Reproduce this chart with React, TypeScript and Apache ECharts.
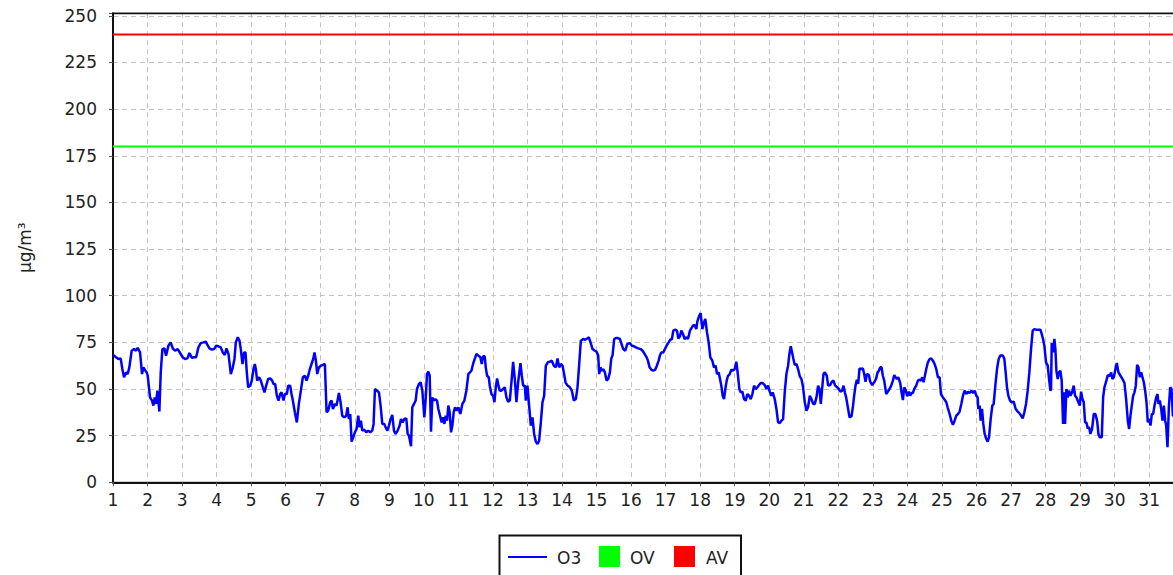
import { useEffect, useRef } from "react";
import * as echarts from "echarts";

const seriesNames = ["O3", "OV", "AV"];
const seriesColors = ["#0000ff", "#00ff00", "#ff0000"];
const yAxisName = "µg/m³";
const ovLimit = 180;
const avLimit = 240;
const xMin = 1;
const xMax = 32;
const yMin = 0;
const yMax = 251.4;

const o3Days1to6: [number, number][] = [
  [1.0, 68.0], [1.029, 67.9], [1.087, 67.0], [1.155, 66.1], [1.222, 66.4], [1.271, 60.7], [1.319, 56.3], [1.377, 58.9], [1.425, 58.0], [1.473, 61.6], [1.541, 70.5], [1.609, 71.4], [1.667, 70.5], [1.715, 72.1], [1.783, 69.6], [1.841, 58.0], [1.879, 61.6], [1.937, 59.8], [1.976, 58.9], [2.005, 57.1], [2.072, 45.5], [2.13, 43.8], [2.169, 41.1], [2.208, 45.5], [2.246, 42.0], [2.285, 49.1], [2.343, 37.9], [2.382, 58.9], [2.43, 71.4], [2.488, 71.8], [2.536, 67.9], [2.604, 73.2], [2.671, 75.0], [2.729, 71.8], [2.797, 70.5], [2.874, 71.4], [2.942, 69.3], [3.019, 67.0], [3.087, 66.1], [3.155, 66.4], [3.213, 69.3], [3.28, 66.8], [3.348, 67.0], [3.406, 67.0], [3.473, 72.3], [3.541, 74.6], [3.618, 75.0], [3.686, 75.4], [3.734, 73.6], [3.792, 71.8], [3.86, 71.1], [3.928, 71.4], [3.986, 73.2], [4.053, 72.9], [4.121, 72.3], [4.179, 69.6], [4.237, 68.2], [4.285, 71.8], [4.343, 68.8], [4.411, 58.0], [4.469, 61.6], [4.517, 66.1], [4.556, 75.0], [4.614, 77.7], [4.662, 75.9], [4.7, 71.4], [4.749, 63.4], [4.797, 69.6], [4.836, 69.6], [4.874, 58.9], [4.913, 50.9], [4.971, 51.8], [5.019, 54.5], [5.068, 60.7], [5.106, 63.4], [5.135, 60.7], [5.174, 54.5], [5.232, 56.3], [5.28, 54.5], [5.338, 50.9], [5.386, 48.2], [5.435, 51.8], [5.493, 55.4], [5.551, 55.7], [5.609, 54.5], [5.647, 52.7], [5.696, 52.7], [5.744, 46.4], [5.792, 43.8], [5.841, 47.3], [5.879, 48.2], [5.937, 43.8], [5.976, 47.3], [6.034, 47.3], [6.072, 51.8], [6.13, 51.8],
];

const o3Days6to11: [number, number][] = [
  [6.169, 47.3], [6.207, 43.8], [6.265, 37.5], [6.323, 32.1], [6.381, 42.0], [6.439, 49.1], [6.497, 56.3], [6.555, 57.1], [6.603, 54.5], [6.652, 57.1], [6.7, 60.7], [6.748, 63.4], [6.797, 66.1], [6.835, 69.6], [6.874, 65.2], [6.913, 58.0], [6.961, 61.6], [7.019, 62.5], [7.087, 63.0], [7.135, 63.4], [7.183, 37.5], [7.231, 38.4], [7.289, 42.9], [7.328, 43.8], [7.367, 39.3], [7.425, 42.0], [7.473, 41.1], [7.541, 47.9], [7.589, 42.9], [7.637, 35.7], [7.695, 34.8], [7.753, 35.7], [7.792, 40.2], [7.83, 33.9], [7.869, 36.6], [7.908, 21.8], [7.956, 24.1], [8.004, 26.8], [8.053, 28.6], [8.101, 35.7], [8.14, 29.5], [8.178, 33.0], [8.217, 27.7], [8.275, 28.2], [8.333, 26.8], [8.391, 27.7], [8.449, 26.8], [8.507, 27.7], [8.545, 31.3], [8.584, 50.0], [8.642, 49.1], [8.7, 48.2], [8.748, 41.1], [8.797, 31.3], [8.855, 31.3], [8.893, 29.5], [8.942, 27.7], [8.99, 30.4], [9.038, 33.9], [9.086, 36.1], [9.135, 27.7], [9.183, 25.9], [9.241, 27.7], [9.299, 30.4], [9.338, 33.9], [9.386, 32.1], [9.434, 33.9], [9.492, 34.3], [9.531, 25.9], [9.57, 25.0], [9.628, 19.3], [9.666, 40.2], [9.715, 42.0], [9.763, 43.8], [9.801, 50.0], [9.859, 52.7], [9.908, 53.6], [9.956, 49.1], [10.014, 34.8], [10.053, 44.6], [10.091, 58.0], [10.13, 59.3], [10.169, 57.1], [10.207, 27.1], [10.246, 45.5], [10.285, 43.8], [10.333, 44.6], [10.381, 43.8], [10.42, 39.3], [10.468, 35.7], [10.516, 32.1], [10.555, 34.8], [10.594, 31.3], [10.632, 35.7], [10.671, 33.0], [10.71, 41.1], [10.748, 37.5], [10.787, 26.8], [10.826, 30.4], [10.864, 37.5], [10.903, 40.2], [10.951, 38.4], [10.999, 40.2], [11.057, 36.6], [11.115, 42.0], [11.173, 43.8], [11.231, 49.1], [11.289, 58.0],
];

const o3Days11to16: [number, number][] = [
  [11.377, 59.8], [11.425, 63.4], [11.474, 66.1], [11.522, 68.8], [11.58, 67.9], [11.638, 67.0], [11.676, 63.4], [11.715, 67.5], [11.763, 67.5], [11.792, 61.6], [11.831, 57.1], [11.879, 56.3], [11.908, 51.8], [11.957, 47.3], [12.005, 46.4], [12.044, 42.9], [12.082, 50.9], [12.121, 55.7], [12.16, 51.8], [12.198, 49.1], [12.246, 49.1], [12.295, 50.0], [12.343, 50.9], [12.391, 45.5], [12.44, 43.2], [12.488, 43.8], [12.536, 53.6], [12.585, 64.6], [12.633, 55.4], [12.681, 42.9], [12.73, 53.6], [12.797, 63.9], [12.836, 57.1], [12.875, 51.8], [12.923, 51.8], [12.952, 43.8], [13.0, 51.8], [13.048, 41.1], [13.097, 30.4], [13.145, 34.8], [13.193, 25.9], [13.242, 21.8], [13.29, 20.5], [13.338, 22.3], [13.387, 32.1], [13.435, 42.9], [13.483, 46.4], [13.532, 62.5], [13.59, 64.3], [13.647, 64.6], [13.705, 65.2], [13.763, 62.5], [13.821, 61.6], [13.87, 66.4], [13.918, 61.6], [13.966, 63.4], [14.015, 62.5], [14.053, 58.9], [14.102, 53.6], [14.15, 52.1], [14.227, 50.9], [14.285, 49.1], [14.343, 43.8], [14.401, 44.6], [14.449, 50.9], [14.498, 63.4], [14.546, 75.9], [14.614, 76.8], [14.672, 76.4], [14.73, 77.1], [14.778, 77.7], [14.826, 75.0], [14.884, 71.4], [14.952, 70.5], [15.0, 70.0], [15.048, 67.9], [15.077, 58.0], [15.116, 61.6], [15.155, 59.8], [15.193, 60.7], [15.242, 58.9], [15.29, 54.5], [15.338, 55.4], [15.387, 58.9], [15.425, 66.1], [15.464, 68.2], [15.512, 76.8], [15.56, 77.3], [15.618, 77.3], [15.676, 76.8], [15.725, 74.1], [15.773, 71.4], [15.831, 70.5], [15.889, 74.1], [15.966, 74.6], [16.024, 73.2], [16.082, 72.9], [16.14, 72.3], [16.208, 71.8], [16.276, 71.4], [16.333, 70.5], [16.391, 68.8], [16.449, 67.0],
];

const o3Days16to21: [number, number][] = [
  [16.488, 65.2], [16.536, 61.6], [16.584, 60.4], [16.642, 59.8], [16.7, 60.4], [16.748, 62.5], [16.797, 65.2], [16.835, 67.9], [16.874, 69.6], [16.932, 69.6], [16.99, 71.8], [17.038, 73.6], [17.087, 75.0], [17.135, 76.4], [17.183, 76.8], [17.222, 81.3], [17.28, 81.8], [17.328, 81.3], [17.367, 77.1], [17.415, 78.2], [17.454, 81.3], [17.502, 79.5], [17.55, 76.8], [17.608, 77.7], [17.647, 76.8], [17.705, 81.3], [17.744, 82.5], [17.792, 83.9], [17.84, 84.3], [17.889, 82.1], [17.918, 86.1], [17.966, 88.9], [18.014, 90.7], [18.063, 82.1], [18.111, 85.7], [18.149, 87.5], [18.198, 80.4], [18.246, 75.0], [18.294, 67.0], [18.352, 65.2], [18.401, 61.6], [18.449, 62.5], [18.488, 58.0], [18.536, 58.9], [18.575, 55.4], [18.613, 51.8], [18.652, 46.4], [18.691, 44.6], [18.729, 50.0], [18.768, 54.5], [18.807, 57.1], [18.855, 58.0], [18.903, 60.4], [18.951, 59.8], [19.0, 60.7], [19.048, 64.6], [19.096, 57.1], [19.135, 50.0], [19.174, 48.2], [19.222, 48.6], [19.27, 44.6], [19.319, 43.8], [19.367, 47.3], [19.415, 46.4], [19.464, 44.6], [19.512, 47.3], [19.56, 51.8], [19.608, 50.0], [19.657, 50.9], [19.705, 52.1], [19.753, 53.2], [19.811, 53.2], [19.869, 52.1], [19.918, 50.0], [19.966, 51.8], [20.014, 48.6], [20.063, 46.4], [20.101, 48.2], [20.159, 44.6], [20.208, 39.3], [20.256, 32.1], [20.304, 31.8], [20.353, 33.0], [20.401, 33.9], [20.449, 48.2], [20.497, 58.0], [20.546, 62.5], [20.584, 68.8], [20.623, 72.9], [20.662, 69.6], [20.7, 66.1], [20.739, 62.9], [20.787, 63.4], [20.835, 60.7], [20.884, 56.8], [20.932, 55.4], [20.98, 50.9], [21.029, 42.9], [21.077, 38.4], [21.125, 40.2], [21.174, 46.4], [21.222, 44.6], [21.27, 42.0], [21.319, 42.0], [21.367, 45.5], [21.415, 51.8], [21.454, 50.0], [21.493, 42.0], [21.531, 50.0], [21.57, 58.0], [21.609, 58.9],
];

const o3Days21to26: [number, number][] = [
  [21.667, 57.1], [21.706, 51.8], [21.764, 52.1], [21.812, 53.9], [21.86, 54.5], [21.909, 51.8], [21.967, 50.9], [22.015, 50.0], [22.063, 48.6], [22.111, 49.1], [22.15, 51.8], [22.189, 48.2], [22.227, 45.5], [22.276, 40.2], [22.324, 34.8], [22.382, 35.4], [22.421, 40.2], [22.459, 46.4], [22.498, 51.8], [22.537, 55.0], [22.575, 52.7], [22.614, 61.1], [22.662, 60.7], [22.71, 61.1], [22.749, 58.0], [22.788, 53.9], [22.826, 58.0], [22.884, 57.5], [22.923, 53.9], [22.981, 52.1], [23.049, 53.9], [23.097, 55.7], [23.136, 58.9], [23.174, 59.8], [23.213, 61.6], [23.252, 61.6], [23.29, 57.1], [23.329, 54.5], [23.387, 47.3], [23.435, 48.6], [23.483, 50.0], [23.532, 51.8], [23.58, 54.5], [23.619, 57.5], [23.657, 56.3], [23.696, 55.4], [23.735, 56.3], [23.793, 53.2], [23.831, 48.2], [23.87, 44.1], [23.909, 50.9], [23.947, 49.6], [23.995, 46.1], [24.044, 48.6], [24.082, 46.4], [24.121, 47.9], [24.16, 47.9], [24.198, 50.0], [24.256, 51.8], [24.305, 54.5], [24.353, 55.0], [24.392, 54.5], [24.43, 56.3], [24.469, 53.6], [24.507, 57.1], [24.546, 60.7], [24.594, 64.3], [24.643, 66.1], [24.691, 66.4], [24.739, 65.2], [24.788, 63.4], [24.836, 60.7], [24.884, 56.3], [24.933, 56.3], [24.971, 47.3], [25.029, 45.5], [25.078, 44.3], [25.126, 42.9], [25.165, 40.2], [25.223, 36.6], [25.271, 33.0], [25.319, 30.9], [25.367, 33.0], [25.416, 35.7], [25.464, 36.6], [25.512, 37.9], [25.561, 42.0], [25.609, 46.4], [25.657, 49.1], [25.706, 47.3], [25.754, 48.6], [25.802, 47.9], [25.851, 49.1], [25.899, 47.9], [25.947, 49.1], [25.995, 46.4], [26.034, 45.5], [26.053, 39.3], [26.092, 41.1], [26.121, 33.0], [26.16, 39.3], [26.198, 31.3], [26.237, 25.9], [26.285, 23.2], [26.324, 21.8], [26.363, 24.1], [26.411, 33.9], [26.459, 41.1], [26.498, 42.0], [26.546, 51.8], [26.595, 60.7], [26.643, 66.1], [26.691, 67.9],
];

const o3Days26to31: [number, number][] = [
  [26.768, 67.9], [26.807, 66.1], [26.845, 58.9], [26.884, 50.9], [26.923, 46.4], [26.971, 43.8], [27.019, 42.9], [27.077, 43.2], [27.135, 39.3], [27.193, 37.9], [27.241, 37.1], [27.29, 35.7], [27.338, 34.3], [27.386, 37.5], [27.435, 42.0], [27.483, 49.1], [27.531, 58.9], [27.58, 71.4], [27.628, 81.3], [27.676, 82.1], [27.734, 81.8], [27.792, 81.8], [27.85, 81.8], [27.889, 79.5], [27.927, 76.8], [27.966, 73.2], [28.014, 64.3], [28.063, 62.5], [28.101, 55.4], [28.14, 49.1], [28.159, 50.0], [28.179, 74.6], [28.217, 69.6], [28.256, 76.8], [28.285, 71.4], [28.314, 59.8], [28.353, 55.4], [28.391, 58.9], [28.43, 59.8], [28.468, 54.5], [28.507, 31.3], [28.536, 48.2], [28.565, 31.3], [28.604, 50.0], [28.642, 45.5], [28.681, 49.1], [28.72, 46.4], [28.768, 48.2], [28.816, 51.8], [28.855, 46.4], [28.894, 45.5], [28.952, 42.9], [28.99, 41.1], [29.029, 48.6], [29.068, 44.6], [29.106, 42.9], [29.145, 32.1], [29.183, 32.1], [29.222, 28.9], [29.261, 29.5], [29.299, 25.9], [29.348, 28.6], [29.396, 36.6], [29.444, 36.6], [29.493, 33.0], [29.531, 25.9], [29.57, 24.1], [29.628, 24.1], [29.667, 45.5], [29.705, 50.9], [29.753, 53.9], [29.802, 57.5], [29.85, 56.8], [29.899, 58.9], [29.937, 55.4], [29.976, 56.3], [30.014, 59.8], [30.063, 63.9], [30.111, 58.9], [30.169, 57.1], [30.227, 55.4], [30.285, 53.2], [30.333, 44.6], [30.382, 33.0], [30.42, 28.6], [30.459, 35.7], [30.497, 41.1], [30.536, 46.4], [30.575, 48.2], [30.613, 51.8], [30.652, 62.9], [30.691, 61.6], [30.729, 56.3], [30.768, 58.9], [30.807, 56.3], [30.845, 53.6], [30.884, 49.1], [30.923, 42.9], [30.961, 32.1], [31.0, 33.9], [31.039, 30.4], [31.077, 36.6], [31.116, 36.6], [31.155, 41.1], [31.203, 45.5], [31.242, 47.3], [31.271, 42.0], [31.309, 43.8], [31.348, 39.3], [31.386, 33.0], [31.425, 41.1], [31.464, 33.0], [31.493, 30.4], [31.531, 18.8], [31.57, 40.2], [31.609, 50.9], [31.647, 50.0], [31.686, 35.7], [31.725, 35.7],
];

const o3Data = [
  ...o3Days1to6,
  ...o3Days6to11,
  ...o3Days11to16,
  ...o3Days16to21,
  ...o3Days21to26,
  ...o3Days26to31,
];

const FONT = "'DejaVu Sans', Verdana, sans-serif";

export default function App() {
  const ref = useRef<HTMLDivElement>(null);

  useEffect(() => {
    if (!ref.current) return;
    const chart = echarts.init(ref.current, null, { renderer: "svg" });
    const gridLine = { show: true, lineStyle: { color: "#c4c4c4", type: [5, 4] as any, width: 1 } };
    const legendY = 557;
    chart.setOption({
      animation: false,
      textStyle: { fontFamily: FONT },
      grid: {
        left: 113,
        right: 16.3,
        top: 13.2,
        bottom: 92.7,
        show: true,
        borderColor: "#111",
        borderWidth: 1,
        backgroundColor: "#fff",
      },
      xAxis: {
        type: "value",
        min: xMin,
        max: xMax,
        interval: 1,
        axisLine: { show: true, onZero: false, lineStyle: { color: "#111", width: 2 } },
        axisTick: { show: true, length: 4, lineStyle: { color: "#555", width: 1 } },
        axisLabel: { color: "#222", fontSize: 17, margin: 9, fontFamily: FONT, showMaxLabel: false },
        splitLine: gridLine,
      },
      yAxis: {
        type: "value",
        min: yMin,
        max: yMax,
        interval: 25,
        name: yAxisName,
        nameLocation: "middle",
        nameGap: 80,
        nameTextStyle: { color: "#222", fontSize: 17, fontFamily: FONT },
        axisLine: { show: true, onZero: false, lineStyle: { color: "#111", width: 2 } },
        axisTick: { show: true, length: 4, lineStyle: { color: "#555", width: 1 } },
        axisLabel: {
          color: "#222",
          fontSize: 17,
          margin: 16,
          fontFamily: FONT,
          formatter: (v: number) => (v % 25 === 0 ? String(v) : ""),
        },
        splitLine: gridLine,
      },
      series: [
        {
          name: seriesNames[0],
          type: "line",
          data: o3Data,
          symbol: "none",
          showSymbol: false,
          lineStyle: { color: seriesColors[0], width: 2.5 },
          z: 4,
        },
        {
          name: seriesNames[1],
          type: "line",
          data: [[xMin, ovLimit], [xMax, ovLimit]],
          symbol: "none",
          lineStyle: { color: seriesColors[1], width: 2 },
          z: 3,
        },
        {
          name: seriesNames[2],
          type: "line",
          data: [[xMin, avLimit], [xMax, avLimit]],
          symbol: "none",
          lineStyle: { color: seriesColors[2], width: 2 },
          z: 3,
        },
      ],
      graphic: [
        {
          type: "line",
          z: 10,
          shape: { x1: 112, y1: 13.5, x2: 1200, y2: 13.5 },
          style: { stroke: "#111", lineWidth: 1.5 },
        },
        {
          type: "rect",
          shape: { x: 499.5, y: 535.5, width: 241.5, height: 60 },
          style: { fill: "#fff", stroke: "#111", lineWidth: 2 },
        },
        {
          type: "line",
          shape: { x1: 508, y1: legendY, x2: 547, y2: legendY },
          style: { stroke: seriesColors[0], lineWidth: 2 },
        },
        {
          type: "text",
          x: 557,
          y: legendY + 1,
          style: { text: seriesNames[0], fill: "#222", font: `17px ${FONT}`, verticalAlign: "middle" },
        },
        {
          type: "rect",
          shape: { x: 599, y: 546, width: 21, height: 21 },
          style: { fill: seriesColors[1] },
        },
        {
          type: "text",
          x: 630,
          y: legendY + 1,
          style: { text: seriesNames[1], fill: "#222", font: `17px ${FONT}`, verticalAlign: "middle" },
        },
        {
          type: "rect",
          shape: { x: 674, y: 546, width: 21, height: 21 },
          style: { fill: seriesColors[2] },
        },
        {
          type: "text",
          x: 706,
          y: legendY + 1,
          style: { text: seriesNames[2], fill: "#222", font: `17px ${FONT}`, verticalAlign: "middle" },
        },
      ],
    });
    return () => chart.dispose();
  }, []);

  return (
    <div
      style={{
        position: "fixed",
        left: 0,
        top: 0,
        width: 1173,
        height: 575,
        overflow: "hidden",
        background: "#fff",
      }}
    >
      <div ref={ref} style={{ width: 1200, height: 575 }} />
    </div>
  );
}
